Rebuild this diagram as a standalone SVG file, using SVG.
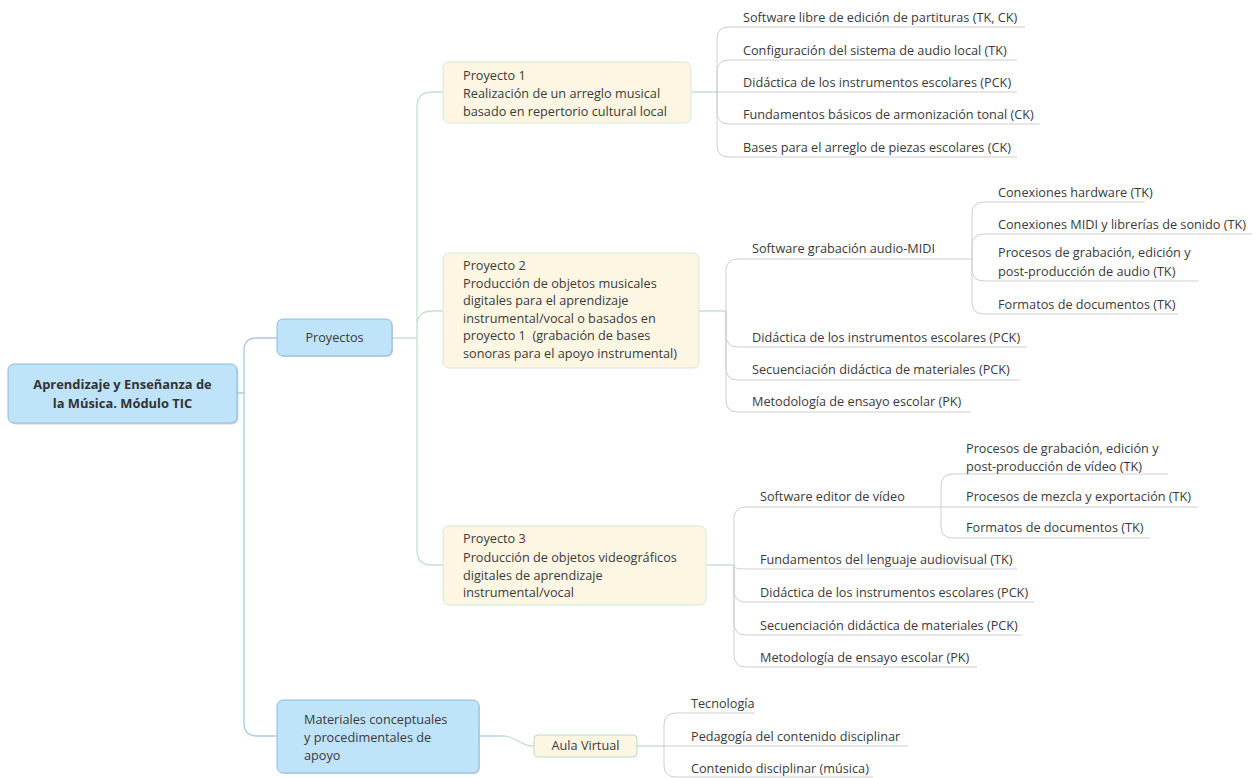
<svg xmlns="http://www.w3.org/2000/svg" width="1260" height="778" viewBox="0 0 1260 778">
<style>
text{font-family:"Segoe UI","Open Sans","Noto Sans",sans-serif;font-size:12.7px;fill:#3a3a3a}
.b{font-weight:bold;font-size:12.9px;fill:#333}
.c{text-anchor:middle}
.blue{fill:#bfe3f8;stroke:#8fbcdc;stroke-width:1}
.cream{fill:#fdf6e2;stroke:#d3ead8;stroke-width:1}
.shadow{fill:#aeb7bf;opacity:0.55}
.cb{fill:none;stroke:#a9cbe4;stroke-width:1.3}
.cg{fill:none;stroke:#c3e2cf;stroke-width:1.3}
.cy{fill:none;stroke:#cfcfcf;stroke-width:1}
</style>
<rect width="1260" height="778" fill="#ffffff"/>
<g id="connectors">
<path class="cb" d="M237,393 H244 M256,338 H277 M244,351 Q244,338 256,338 M244,351 V723 Q244,736 257,736 H277"/>
<path class="cg" d="M392,338 H417 M443,92 H432 Q417,92 417,107 V550 Q417,565 432,565 H443 M417,326 Q417,311 432,311 H443"/>
<path class="cb" d="M479,736 H503"/>
<path class="cg" d="M503,736 C518,736 518,746 534,746"/>
<path class="cg" d="M691,92 H717 M699,311 H726 M706,565 H734 M637,746 H664"/>
<path class="cy" d="M717,92 V39 Q717,27 729,27 H1025 M717,92 V72 Q717,60 729,60 H1017 M717,92 H1017 M717,92 V112 Q717,124 729,124 H1040 M717,92 V145 Q717,157 729,157 H1017"/>
<path class="cy" d="M726,311 V271 Q726,259 738,259 H972 M726,311 V335 Q726,347 738,347 H1027 M726,311 V368 Q726,380 738,380 H1020 M726,311 V400 Q726,412 738,412 H971"/>
<path class="cy" d="M972,259 V214 Q972,202 984,202 H1145 M972,259 V246 Q972,234 984,234 H1252 M972,259 V269 Q972,281 984,281 H1198 M972,259 V302 Q972,314 984,314 H1178"/>
<path class="cy" d="M734,565 V519 Q734,507 746,507 H941 M734,565 C734,568 737,569 746,569 H1017 M734,565 V590 Q734,602 746,602 H1034 M734,565 V623 Q734,635 746,635 H1022 M734,565 V655 Q734,667 746,667 H977"/>
<path class="cy" d="M941,507 V486 Q941,474 953,474 H1168 M941,507 H1198 M941,507 V526 Q941,538 953,538 H1150"/>
<path class="cy" d="M664,746 V725 Q664,713 676,713 H755 M664,746 H908 M664,746 V765 Q664,777 676,777 H873"/>
</g>
<g id="root">
<rect class="shadow" x="9.5" y="365.5" width="229" height="59" rx="6"/>
<rect class="blue" x="8" y="364" width="229" height="59" rx="6"/>
<text class="b c" x="122.5" y="389">Aprendizaje y Enseñanza de</text>
<text class="b c" x="122.5" y="408">la Música. Módulo TIC</text>
</g>
<g id="proyectos">
<rect class="shadow" x="278" y="320" width="115" height="37" rx="6"/>
<rect class="blue" x="277" y="319" width="115" height="37" rx="6"/>
<text class="c" x="334.5" y="342">Proyectos</text>
</g>
<g id="materiales">
<rect class="shadow" x="278" y="701" width="202" height="73" rx="6"/>
<rect class="blue" x="277" y="700" width="202" height="73" rx="6"/>
<text x="304" y="724">Materiales conceptuales</text>
<text x="304" y="742">y procedimentales de</text>
<text x="304" y="760">apoyo</text>
</g>
<g id="proyecto1">
<rect class="cream" x="443" y="62" width="248" height="61" rx="6"/>
<text x="463" y="80">Proyecto 1</text>
<text x="463" y="98">Realización de un arreglo musical</text>
<text x="463" y="116">basado en repertorio cultural local</text>
</g>
<g id="proyecto2">
<rect class="cream" x="443" y="253" width="256" height="115" rx="6"/>
<text x="463" y="270">Proyecto 2</text>
<text x="463" y="288">Producción de objetos musicales</text>
<text x="463" y="305">digitales para el aprendizaje</text>
<text x="463" y="323">instrumental/vocal o basados en</text>
<text x="463" y="340" xml:space="preserve">proyecto 1  (grabación de bases</text>
<text x="463" y="358">sonoras para el apoyo instrumental)</text>
</g>
<g id="proyecto3">
<rect class="cream" x="443" y="526" width="263" height="79" rx="6"/>
<text x="463" y="543">Proyecto 3</text>
<text x="463" y="562">Producción de objetos videográficos</text>
<text x="463" y="580">digitales de aprendizaje</text>
<text x="463" y="597">instrumental/vocal</text>
</g>
<g id="aula-virtual">
<rect class="cream" x="534" y="735" width="103" height="22" rx="4" style="stroke:#b9dcc3"/>
<text class="c" x="585.5" y="750">Aula Virtual</text>
</g>
<g id="p1-items">
<text x="743" y="22">Software libre de edición de partituras (TK, CK)</text>
<text x="743" y="55">Configuración del sistema de audio local (TK)</text>
<text x="743" y="87">Didáctica de los instrumentos escolares (PCK)</text>
<text x="743" y="119">Fundamentos básicos de armonización tonal (CK)</text>
<text x="743" y="152">Bases para el arreglo de piezas escolares (CK)</text>
</g>
<g id="p2-items">
<text x="752" y="253">Software grabación audio-MIDI</text>
<text x="752" y="342">Didáctica de los instrumentos escolares (PCK)</text>
<text x="752" y="374">Secuenciación didáctica de materiales (PCK)</text>
<text x="752" y="406">Metodología de ensayo escolar (PK)</text>
</g>
<g id="p2-sub-items">
<text x="998" y="197">Conexiones hardware (TK)</text>
<text x="998" y="229">Conexiones MIDI y librerías de sonido (TK)</text>
<text x="998" y="257">Procesos de grabación, edición y</text>
<text x="998" y="276">post-producción de audio (TK)</text>
<text x="998" y="309">Formatos de documentos (TK)</text>
</g>
<g id="p3-items">
<text x="760" y="501">Software editor de vídeo</text>
<text x="760" y="564">Fundamentos del lenguaje audiovisual (TK)</text>
<text x="760" y="597">Didáctica de los instrumentos escolares (PCK)</text>
<text x="760" y="630">Secuenciación didáctica de materiales (PCK)</text>
<text x="760" y="662">Metodología de ensayo escolar (PK)</text>
</g>
<g id="p3-sub-items">
<text x="966" y="453">Procesos de grabación, edición y</text>
<text x="966" y="471">post-producción de vídeo (TK)</text>
<text x="966" y="501">Procesos de mezcla y exportación (TK)</text>
<text x="966" y="532">Formatos de documentos (TK)</text>
</g>
<g id="aula-items">
<text x="691" y="708">Tecnología</text>
<text x="691" y="741">Pedagogía del contenido disciplinar</text>
<text x="691" y="773">Contenido disciplinar (música)</text>
</g>
</svg>
